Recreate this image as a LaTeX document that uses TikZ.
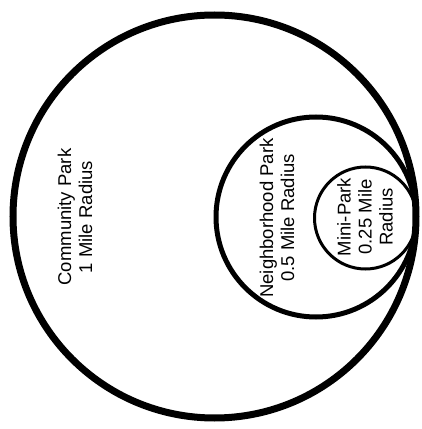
\documentclass[tikz,border=0pt]{standalone}
\usepackage{fontspec}
\setmainfont{Liberation Sans}
\begin{document}
\begin{tikzpicture}[x=1pt,y=1pt,
  ring/.style={draw=black},
  lbl/.style={rotate=90,align=center,inner sep=0pt,font=\fontsize{18.5}{21}\selectfont}]
\useasboundingbox[fill=white] (0,0) rectangle (421,429);
\coordinate (cbig) at (214.5,212.5);
\coordinate (cmid) at (316,212);
\coordinate (csmall) at (365.5,211);
\draw[ring,line width=7pt] (cbig) circle[radius=201.5];
\draw[ring,line width=5pt] (cmid) circle[radius=100];
\draw[ring,line width=3pt] (csmall) circle[radius=51];
\node[lbl] (comm) at (75,212) {Community Park\\1 Mile Radius};
\node[lbl] (neigh) at (277,211) {Neighborhood Park\\0.5 Mile Radius};
\node[lbl] (mini) at (365,212) {Mini-Park\\0.25 Mile\\Radius};
\end{tikzpicture}
\end{document}
